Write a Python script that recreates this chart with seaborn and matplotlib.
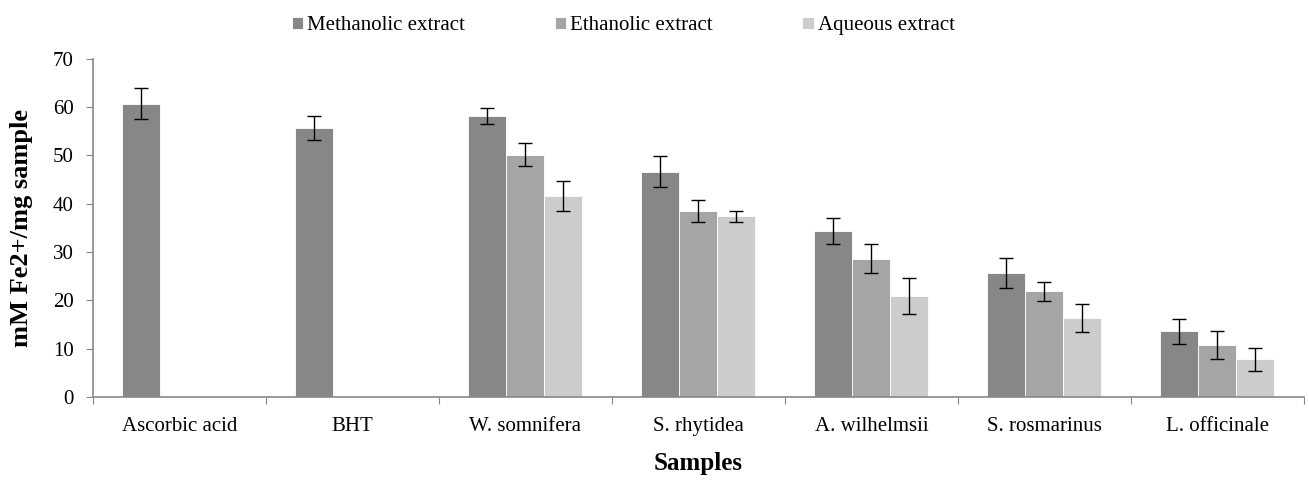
import numpy as np
import pandas as pd
import seaborn as sns
import matplotlib
matplotlib.use("Agg")
import matplotlib.pyplot as plt
from matplotlib.ticker import FixedLocator, NullFormatter

# ---------------- data ----------------
samples = ["Ascorbic acid", "BHT", "W. somnifera", "S. rhytidea",
           "A. wilhelmsii", "S. rosmarinus", "L. officinale"]
extracts = ["Methanolic extract", "Ethanolic extract", "Aqueous extract"]

methanolic = [60.7, 55.7, 58.2, 46.6, 34.4, 25.6, 13.6]
ethanolic = [np.nan, np.nan, 50.2, 38.5, 28.6, 21.9, 10.7]
aqueous = [np.nan, np.nan, 41.7, 37.4, 20.9, 16.3, 7.8]

methanolic_err = [3.2, 2.4, 1.7, 3.2, 2.7, 3.1, 2.6]
ethanolic_err = [np.nan, np.nan, 2.3, 2.3, 3.0, 2.0, 2.9]
aqueous_err = [np.nan, np.nan, 3.1, 1.2, 3.7, 2.9, 2.4]

colors = ["#878787", "#A5A5A5", "#CCCCCC"]

# ---------------- build table ----------------
rows = []
for vals, errs, name in zip([methanolic, ethanolic, aqueous],
                            [methanolic_err, ethanolic_err, aqueous_err],
                            extracts):
    for s, v, e in zip(samples, vals, errs):
        rows.append({"Sample": s, "Extract": name, "Value": v, "Err": e})
df = pd.DataFrame(rows)
plot_df = df.dropna(subset=["Value"])

sns.set_theme(style="white")
plt.rcParams["font.family"] = ["Liberation Serif", "DejaVu Serif"]
plt.rcParams["text.color"] = "black"
plt.rcParams["axes.labelcolor"] = "black"
plt.rcParams["xtick.color"] = "black"
plt.rcParams["ytick.color"] = "black"

fig = plt.figure(figsize=(13.09, 4.82), dpi=100)
ax = fig.add_axes([0.071, 0.176, 0.925, 0.702])

sns.barplot(data=plot_df, x="Sample", y="Value", hue="Extract",
            order=samples, hue_order=extracts, palette=colors,
            width=0.66, errorbar=None, saturation=1, ax=ax,
            edgecolor="white", linewidth=0.6)

# error bars on top of each bar
err_lookup = {(r.Sample, r.Extract): r.Err for r in df.itertuples()}
for cont, ext in zip(ax.containers, extracts):
    for p in cont.patches:
        h = p.get_height()
        if not np.isfinite(h) or h == 0:
            continue
        xc = p.get_x() + p.get_width() / 2
        cat = samples[int(round(xc))]
        e = err_lookup[(cat, ext)]
        ax.errorbar(xc, h, yerr=e, fmt="none", ecolor="black",
                    elinewidth=1.0, capsize=5, capthick=1.0, zorder=5)

ax.set_ylim(0, 70)
ax.set_xlim(-0.5, len(samples) - 0.5)
ax.set_yticks(range(0, 71, 10))
ax.tick_params(axis="y", which="major", length=5, width=0.8,
               color="#888888", labelcolor="black", labelsize=15, pad=9,
               direction="out", left=True)
ax.tick_params(axis="x", which="major", length=0, labelsize=15, pad=14,
               labelcolor="black")
ax.xaxis.set_minor_locator(FixedLocator(np.arange(-0.5, len(samples), 1.0)))
ax.xaxis.set_minor_formatter(NullFormatter())
ax.tick_params(axis="x", which="minor", length=5, width=0.8,
               color="#888888", direction="out", bottom=True)

for side in ["top", "right"]:
    ax.spines[side].set_visible(False)
for side in ["left", "bottom"]:
    ax.spines[side].set_color("#888888")
    ax.spines[side].set_linewidth(1.2)

ax.set_xlabel("Samples", fontsize=18, fontweight="bold", labelpad=12)
ax.set_ylabel("mM Fe2+/mg sample", fontsize=19, fontweight="bold", labelpad=14)

leg = ax.legend(loc="center", bbox_to_anchor=(0.438, 1.097), ncol=3,
                frameon=False, fontsize=15, handlelength=0.55,
                handleheight=0.55, handletextpad=0.2, columnspacing=4.3)

fig.savefig("out.png", dpi=100)
